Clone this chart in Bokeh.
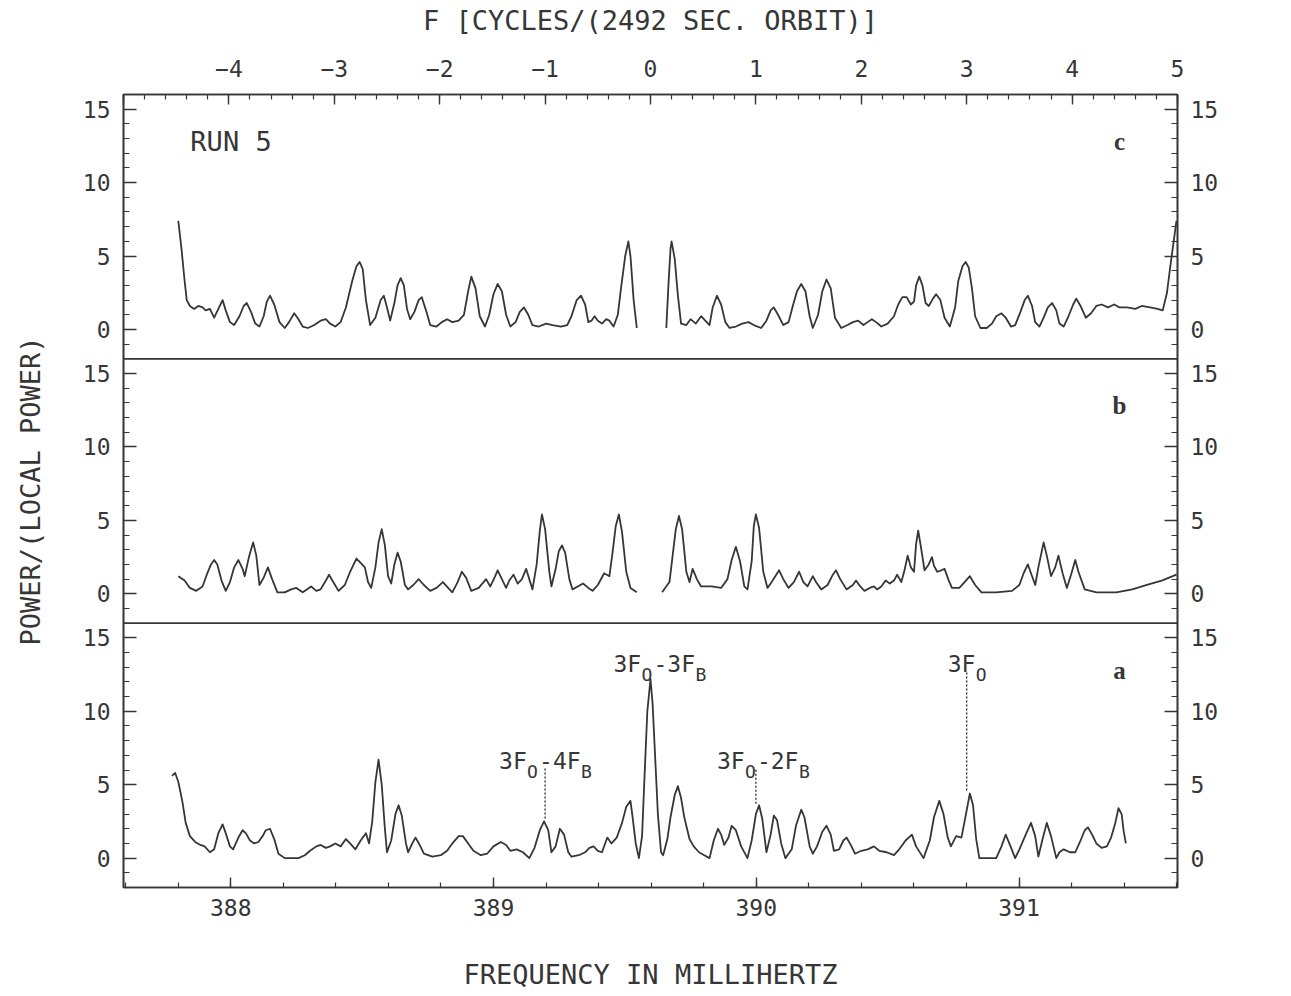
from bokeh.plotting import figure
from bokeh.models import (Range1d, LinearAxis, FixedTicker, SingleIntervalTicker,
                          Span, Label, ColumnDataSource)
from bokeh.transform import dodge
from bokeh.embed import file_html
from bokeh.resources import INLINE

nan = float("nan")

# ---------- data: x in cycles per 2492 s orbit (relative to 3F0-3FB), y in power/local power ----------
amp_f = [-4.48, -4.45, -4.42, -4.40, -4.37, -4.33, -4.29, -4.25, -4.22, -4.18, -4.14, -4.10,
         -4.06, -4.03, -3.99, -3.95, -3.90, -3.86, -3.83, -3.79, -3.75, -3.71, -3.67, -3.64,
         -3.61, -3.57, -3.52, -3.47, -3.43, -3.38, -3.34, -3.30, -3.25, -3.19, -3.13, -3.08,
         -3.04, -2.99, -2.94, -2.89, -2.83, -2.79, -2.76, -2.73, -2.70, -2.66, -2.61, -2.56,
         -2.53, -2.50, -2.47, -2.43, -2.40, -2.37, -2.34, -2.31, -2.28, -2.24, -2.20, -2.17,
         -2.13, -2.09, -2.03, -1.98, -1.93, -1.88, -1.82, -1.77, -1.73, -1.70, -1.66, -1.62,
         -1.57, -1.53, -1.49, -1.45, -1.41, -1.37, -1.33, -1.28, -1.24, -1.20, -1.16, -1.12,
         -1.06, -0.99, -0.93, -0.85, -0.79, -0.75, -0.70, -0.66, -0.62, -0.59, -0.56, -0.53,
         -0.50, -0.46, -0.42, -0.39, -0.35, -0.31, -0.28, -0.24, -0.21, -0.19, -0.16, -0.13,
         nan,
         0.15, 0.17, 0.19, 0.20, 0.23, 0.26, 0.29, 0.34, 0.38, 0.43, 0.48, 0.52,
         0.56, 0.59, 0.63, 0.67, 0.71, 0.75, 0.81, 0.87, 0.93, 0.98, 1.05, 1.10,
         1.14, 1.17, 1.21, 1.26, 1.31, 1.35, 1.39, 1.43, 1.47, 1.51, 1.54, 1.59,
         1.63, 1.67, 1.71, 1.75, 1.81, 1.87, 1.92, 1.97, 2.02, 2.06, 2.10, 2.14,
         2.19, 2.25, 2.31, 2.35, 2.39, 2.43, 2.47, 2.50, 2.52, 2.55, 2.58, 2.61,
         2.64, 2.68, 2.71, 2.75, 2.79, 2.84, 2.89, 2.92, 2.96, 2.99, 3.02, 3.05,
         3.08, 3.13, 3.19, 3.24, 3.28, 3.33, 3.37, 3.42, 3.46, 3.51, 3.55, 3.58,
         3.62, 3.65, 3.69, 3.73, 3.77, 3.81, 3.85, 3.88, 3.92, 3.96, 4.01, 4.04,
         4.08, 4.13, 4.18, 4.23, 4.28, 4.34, 4.40, 4.45, 4.52, 4.60, 4.66, 4.74,
         4.81, 4.86, 4.90, 4.93, 4.96, 4.99]
amp_v = [7.4, 5.5, 3.3, 2.0, 1.6, 1.4, 1.6, 1.5, 1.3, 1.4, 0.8, 1.4,
         2.0, 1.3, 0.5, 0.3, 0.9, 1.6, 1.8, 1.2, 0.4, 0.2, 0.9, 1.9,
         2.3, 1.7, 0.5, 0.1, 0.5, 1.1, 0.7, 0.2, 0.1, 0.3, 0.6, 0.7,
         0.4, 0.2, 0.5, 1.5, 3.3, 4.3, 4.6, 4.1, 2.0, 0.3, 0.8, 2.0,
         2.3, 1.5, 0.6, 1.8, 3.0, 3.5, 3.0, 1.4, 0.7, 1.2, 2.0, 2.2,
         1.3, 0.3, 0.2, 0.5, 0.7, 0.5, 0.6, 1.0, 2.6, 3.6, 2.8, 0.9,
         0.2, 1.0, 2.4, 3.1, 2.6, 1.0, 0.2, 0.5, 1.2, 1.5, 1.0, 0.3,
         0.2, 0.4, 0.3, 0.2, 0.3, 0.9, 2.0, 2.3, 1.7, 0.5, 0.6, 0.9,
         0.6, 0.4, 0.7, 0.6, 0.2, 1.0, 2.8, 5.0, 6.0, 5.0, 2.0, 0.1,
         nan,
         0.1, 3.0, 5.5, 6.0, 4.8, 2.3, 0.4, 0.3, 0.7, 0.4, 0.9, 0.6,
         0.3, 1.5, 2.3, 1.7, 0.5, 0.1, 0.2, 0.4, 0.5, 0.3, 0.1, 0.6,
         1.3, 1.5, 1.0, 0.3, 0.5, 1.6, 2.6, 3.1, 2.6, 0.9, 0.1, 1.0,
         2.6, 3.4, 2.8, 0.8, 0.1, 0.3, 0.5, 0.6, 0.3, 0.5, 0.7, 0.5,
         0.2, 0.4, 0.9, 1.7, 2.2, 2.2, 1.7, 1.9, 3.0, 3.6, 3.0, 1.8,
         1.6, 2.1, 2.4, 2.0, 0.8, 0.2, 1.5, 3.3, 4.3, 4.6, 4.2, 2.8,
         0.9, 0.1, 0.1, 0.4, 0.9, 1.1, 0.8, 0.2, 0.3, 1.2, 2.0, 2.3,
         1.6, 0.5, 0.2, 0.8, 1.5, 1.8, 1.3, 0.4, 0.2, 0.8, 1.7, 2.1,
         1.6, 0.8, 1.1, 1.6, 1.7, 1.5, 1.7, 1.5, 1.5, 1.4, 1.6, 1.5,
         1.4, 1.3, 2.5, 4.2, 5.8, 7.4]

phase_f = [-4.48, -4.42, -4.37, -4.31, -4.25, -4.21, -4.17, -4.14, -4.11, -4.07, -4.03, -3.99,
           -3.95, -3.91, -3.87, -3.85, -3.81, -3.77, -3.74, -3.71, -3.67, -3.63, -3.59, -3.54,
           -3.47, -3.41, -3.36, -3.30, -3.26, -3.22, -3.17, -3.13, -3.08, -3.05, -3.01, -2.96,
           -2.90, -2.85, -2.79, -2.75, -2.71, -2.68, -2.65, -2.61, -2.58, -2.55, -2.52, -2.49,
           -2.46, -2.43, -2.40, -2.37, -2.33, -2.30, -2.25, -2.20, -2.15, -2.09, -2.03, -1.97,
           -1.92, -1.88, -1.83, -1.79, -1.75, -1.70, -1.63, -1.56, -1.52, -1.48, -1.45, -1.41,
           -1.37, -1.34, -1.30, -1.26, -1.22, -1.18, -1.15, -1.12, -1.08, -1.05, -1.03, -1.00,
           -0.96, -0.94, -0.90, -0.87, -0.84, -0.81, -0.77, -0.74, -0.69, -0.64, -0.59, -0.55,
           -0.50, -0.44, -0.39, -0.36, -0.33, -0.30, -0.27, -0.23, -0.19, -0.13,
           nan,
           0.11, 0.18, 0.21, 0.24, 0.27, 0.30, 0.34, 0.37, 0.40, 0.44, 0.48, 0.58,
           0.67, 0.73, 0.77, 0.81, 0.85, 0.89, 0.92, 0.96, 0.98, 1.00, 1.03, 1.07,
           1.11, 1.15, 1.22, 1.26, 1.31, 1.36, 1.41, 1.45, 1.49, 1.54, 1.57, 1.62,
           1.68, 1.73, 1.76, 1.80, 1.86, 1.92, 1.95, 1.99, 2.03, 2.08, 2.12, 2.15,
           2.19, 2.23, 2.27, 2.31, 2.34, 2.38, 2.41, 2.44, 2.47, 2.50, 2.52, 2.54,
           2.57, 2.60, 2.64, 2.67, 2.69, 2.72, 2.76, 2.79, 2.83, 2.86, 2.93, 2.98,
           3.03, 3.08, 3.14, 3.28, 3.43, 3.50, 3.54, 3.58, 3.61, 3.65, 3.68, 3.73,
           3.76, 3.80, 3.84, 3.87, 3.91, 3.95, 3.99, 4.03, 4.06, 4.12, 4.23, 4.42,
           4.57, 4.71, 4.85, 4.99]
phase_v = [1.2, 0.9, 0.4, 0.2, 0.5, 1.3, 2.0, 2.3, 2.0, 0.9, 0.2, 0.8,
           1.8, 2.3, 1.7, 1.2, 2.5, 3.5, 2.6, 0.6, 1.1, 1.8, 1.0, 0.1,
           0.1, 0.3, 0.4, 0.1, 0.3, 0.5, 0.2, 0.3, 0.9, 1.3, 0.8, 0.2,
           0.6, 1.5, 2.4, 2.1, 1.8, 0.8, 0.4, 1.8, 3.5, 4.4, 3.3, 1.2,
           0.7, 2.0, 2.8, 2.2, 0.6, 0.3, 0.6, 1.0, 0.6, 0.2, 0.4, 0.8,
           0.4, 0.1, 0.8, 1.5, 1.1, 0.2, 0.4, 1.0, 0.5, 1.1, 1.6, 1.0,
           0.4, 0.9, 1.3, 0.7, 1.0, 1.7, 1.0, 0.3, 2.0, 4.3, 5.4, 4.4,
           1.5, 0.5, 1.7, 2.9, 3.3, 2.8, 1.0, 0.3, 0.5, 0.7, 0.4, 0.2,
           0.6, 1.4, 1.2, 2.8, 4.6, 5.4, 4.2, 1.5, 0.4, 0.1,
           nan,
           0.1, 0.8, 2.6, 4.4, 5.3, 4.4, 1.5, 0.8, 1.7, 1.0, 0.5, 0.5,
           0.4, 1.0, 2.3, 3.2, 2.2, 0.5, 0.3, 2.2, 4.6, 5.4, 4.5, 1.5,
           0.4, 0.8, 1.6, 1.0, 0.4, 0.8, 1.5, 0.8, 0.5, 1.2, 0.8, 0.3,
           0.6, 1.3, 1.6, 1.0, 0.3, 0.6, 0.9, 0.5, 0.2, 0.4, 0.5, 0.3,
           0.5, 0.9, 0.7, 0.9, 1.3, 0.8, 1.6, 2.6, 1.8, 1.5, 3.4, 4.3,
           3.0, 1.6, 2.0, 2.5, 1.9, 1.5, 1.6, 1.7, 0.9, 0.4, 0.4, 0.8,
           1.2, 0.6, 0.1, 0.1, 0.2, 0.6, 1.4, 2.0, 1.4, 0.6, 1.8, 3.5,
           2.6, 1.2, 1.8, 2.6, 1.4, 0.4, 1.3, 2.3, 1.5, 0.3, 0.1, 0.1,
           0.3, 0.6, 0.9, 1.3]

spec_f = [-4.54, -4.51, -4.48, -4.44, -4.41, -4.37, -4.32, -4.27, -4.23, -4.18, -4.14, -4.10,
          -4.06, -4.03, -3.99, -3.96, -3.91, -3.87, -3.84, -3.80, -3.76, -3.72, -3.68, -3.65,
          -3.61, -3.57, -3.53, -3.47, -3.34, -3.28, -3.23, -3.17, -3.13, -3.08, -3.04, -2.99,
          -2.94, -2.89, -2.85, -2.80, -2.75, -2.70, -2.67, -2.64, -2.61, -2.58, -2.55, -2.52,
          -2.50, -2.46, -2.42, -2.39, -2.36, -2.32, -2.30, -2.26, -2.23, -2.19, -2.15, -2.07,
          -1.99, -1.93, -1.88, -1.82, -1.78, -1.73, -1.68, -1.61, -1.55, -1.49, -1.42, -1.37,
          -1.33, -1.27, -1.21, -1.15, -1.10, -1.05, -1.01, -0.97, -0.94, -0.90, -0.86, -0.82,
          -0.78, -0.75, -0.68, -0.62, -0.58, -0.54, -0.50, -0.46, -0.41, -0.37, -0.32, -0.27,
          -0.23, -0.19, -0.17, -0.14, -0.11, -0.08, -0.06, -0.03, 0.00, 0.02, 0.04, 0.07,
          0.10, 0.12, 0.16, 0.19, 0.23, 0.26, 0.29, 0.32, 0.37, 0.41, 0.46, 0.51,
          0.56, 0.60, 0.64, 0.67, 0.70, 0.74, 0.77, 0.81, 0.86, 0.92, 0.96, 1.00,
          1.03, 1.06, 1.10, 1.14, 1.17, 1.20, 1.24, 1.28, 1.34, 1.38, 1.43, 1.46,
          1.51, 1.54, 1.58, 1.63, 1.67, 1.71, 1.74, 1.79, 1.83, 1.86, 1.90, 1.94,
          2.00, 2.06, 2.12, 2.17, 2.24, 2.31, 2.36, 2.42, 2.48, 2.52, 2.59, 2.65,
          2.69, 2.74, 2.78, 2.82, 2.85, 2.90, 2.95, 2.98, 3.03, 3.06, 3.09, 3.12,
          3.28, 3.33, 3.37, 3.41, 3.46, 3.50, 3.56, 3.61, 3.65, 3.68, 3.72, 3.76,
          3.80, 3.85, 3.88, 3.92, 3.98, 4.03, 4.08, 4.12, 4.15, 4.19, 4.23, 4.28,
          4.33, 4.37, 4.41, 4.44, 4.47, 4.49, 4.51]
spec_v = [5.6, 5.8, 5.2, 3.8, 2.4, 1.5, 1.1, 0.9, 0.8, 0.4, 0.6, 1.7,
          2.3, 1.7, 0.8, 0.6, 1.4, 1.9, 1.7, 1.2, 1.0, 1.1, 1.5, 1.9,
          2.0, 1.3, 0.3, 0.0, 0.0, 0.2, 0.5, 0.8, 0.9, 0.7, 0.8, 1.0,
          0.8, 1.3, 1.0, 0.6, 1.2, 1.7, 1.0, 2.5, 5.2, 6.7, 5.0, 2.0,
          0.4, 1.2, 3.0, 3.6, 2.9, 1.0, 0.4, 1.0, 1.4, 0.9, 0.3, 0.1,
          0.2, 0.5, 1.0, 1.5, 1.5, 1.0, 0.5, 0.2, 0.3, 0.8, 1.1, 0.9,
          0.5, 0.6, 0.4, 0.0, 0.7, 1.9, 2.5, 1.9, 0.4, 0.8, 2.0, 1.6,
          0.4, 0.1, 0.2, 0.4, 0.7, 0.8, 0.5, 0.4, 1.4, 1.0, 1.4, 2.4,
          3.5, 3.9, 2.8, 1.0, 0.0, 1.5, 5.0, 10.0, 12.2, 10.5, 7.5, 3.0,
          0.4, 0.2, 1.3, 2.8, 4.3, 4.9, 4.1, 2.8, 1.3, 0.8, 0.4, 0.2,
          0.0, 1.2, 2.0, 1.6, 0.9, 1.4, 2.2, 1.9, 0.8, 0.0, 1.2, 3.0,
          3.6, 2.7, 0.4, 1.6, 2.9, 2.6, 1.0, 0.0, 0.6, 2.2, 3.3, 2.8,
          0.8, 0.3, 0.8, 1.8, 2.2, 1.6, 0.5, 0.6, 1.2, 1.4, 0.9, 0.3,
          0.5, 0.6, 0.8, 0.5, 0.4, 0.2, 0.6, 1.2, 1.6, 0.8, 0.0, 1.2,
          2.8, 3.9, 3.0, 1.4, 0.8, 1.5, 1.4, 2.5, 4.4, 3.6, 1.3, 0.0,
          0.0, 0.8, 1.6, 0.9, 0.0, 0.6, 1.6, 2.4, 1.5, 0.1, 1.3, 2.4,
          1.5, 0.0, 0.4, 0.6, 0.4, 0.4, 1.2, 1.9, 2.1, 1.6, 1.0, 0.7,
          0.8, 1.4, 2.4, 3.4, 3.0, 1.8, 1.0]

# identified lines in the spectrum (cycles/orbit): peak height and label base height
ann_f = [-1.0, 0.0, 1.0, 3.0]
ann_peak = [2.7, 12.2, 3.7, 4.6]
ann_base = [6.6, 13.2, 6.6, 13.2]
ann_text = [("3F", "O", "-4F", "B"), ("3F", "O", "-3F", "B"),
            ("3F", "O", "-2F", "B"), ("3F", "O", "", "")]

panels = ["SPECTRUM", "PHASE", "AMPLITUDE"]
panel_letters = ["a", "b", "c"]
panel_offset = [0, 18, 36]          # vertical stacking of the three panels
y_major = [0, 5, 10, 15]
MHZ_RANGE = (387.592, 391.603)

INK = "#363636"
FONT = "DejaVu Sans Mono"

# ---------- figure ----------
W, H = 1285, 992
p = figure(width=W, height=H, output_backend="svg", toolbar_location=None,
           x_range=Range1d(-5, 5), y_range=Range1d(-2, 52),
           x_axis_location="above", min_border_left=123, min_border_right=108,
           min_border_top=94, min_border_bottom=105,
           background_fill_color="white", border_fill_color="white")
p.grid.visible = False
p.outline_line_color = INK
p.outline_line_width = 1.6
p.extra_x_ranges = {"mhz": Range1d(*MHZ_RANGE)}


def style_axis(ax):
    ax.axis_line_color = INK
    ax.axis_line_width = 1.6
    ax.major_tick_line_color = INK
    ax.minor_tick_line_color = INK
    ax.major_tick_line_width = 1.4
    ax.minor_tick_line_width = 1.2
    ax.major_label_text_font = FONT
    ax.major_label_text_font_size = "23px"
    ax.major_label_text_color = INK
    ax.axis_label_text_font = FONT
    ax.axis_label_text_font_style = "normal"
    ax.axis_label_text_color = INK
    ax.axis_label_text_font_size = "27px"
    ax.major_tick_out = 0
    ax.minor_tick_out = 0


top = p.xaxis[0]
top.ticker = SingleIntervalTicker(interval=1, num_minor_ticks=5)
top.major_label_overrides = {-5: ""}
top.axis_label = "F [CYCLES/(2492 SEC. ORBIT)]"
style_axis(top)
top.major_tick_in = 10
top.minor_tick_in = 5
top.major_label_standoff = 18
top.axis_label_standoff = 21

bottom = LinearAxis(x_range_name="mhz", axis_label="FREQUENCY IN MILLIHERTZ",
                    ticker=SingleIntervalTicker(interval=1, num_minor_ticks=5))
style_axis(bottom)
bottom.major_tick_in = 10
bottom.minor_tick_in = 5
bottom.major_label_standoff = 11
bottom.axis_label_standoff = 40
p.add_layout(bottom, "below")

ticks = [v + o for o in panel_offset for v in y_major]
minor = [v + o for o in panel_offset for v in range(-2, 16)]
overrides = {v + o: str(v) for o in panel_offset for v in y_major}

left = p.yaxis[0]
left.ticker = FixedTicker(ticks=ticks, minor_ticks=minor)
left.major_label_overrides = overrides
left.axis_label = "POWER/(LOCAL POWER)"
style_axis(left)
left.major_tick_in = 13
left.minor_tick_in = 6
left.major_label_standoff = 13
left.axis_label_standoff = 34

right = LinearAxis(ticker=FixedTicker(ticks=ticks, minor_ticks=minor),
                   major_label_overrides=overrides)
style_axis(right)
right.major_tick_in = 13
right.minor_tick_in = 6
right.major_label_standoff = 13
p.add_layout(right, "right")

# panel separators
for o in panel_offset[1:]:
    p.add_layout(Span(location=o - 2, dimension="width", line_color=INK, line_width=1.6))

# curves
for xs, ys, off in [(spec_f, spec_v, panel_offset[0]), (phase_f, phase_v, panel_offset[1]),
                    (amp_f, amp_v, panel_offset[2])]:
    src = ColumnDataSource(dict(f=xs, v=ys))
    p.line(x="f", y=dodge("v", off), source=src, line_color=INK, line_width=1.8,
           line_join="round")

# right-hand panel names and panel letters
for name, letter, off in zip(panels, panel_letters, panel_offset):
    p.add_layout(Label(x=5.86, y=off + 7, text=name, angle=90, angle_units="deg",
                       text_align="center", text_baseline="middle", text_font=FONT,
                       text_font_size="24px", text_color=INK))
    p.add_layout(Label(x=4.45, y=off + 12.8, text=letter, text_align="center",
                       text_baseline="middle", text_font="Liberation Serif",
                       text_font_style="bold", text_font_size="25px", text_color=INK))

p.add_layout(Label(x=-3.98, y=panel_offset[2] + 12.8, text="RUN 5", text_align="center",
                   text_baseline="middle", text_font=FONT, text_font_size="27px",
                   text_color=INK))

# identified lines in the spectrum panel
sel = [i for i, f in enumerate(ann_f) if f != 0.0]
ann_src = ColumnDataSource(dict(x=[ann_f[i] for i in sel], y0=[ann_peak[i] for i in sel],
                                y1=[ann_base[i] - 0.5 for i in sel]))
p.segment(x0="x", y0="y0", x1="x", y1="y1", source=ann_src, line_color=INK,
          line_width=1.4, line_dash="2 2")

lead = {-1.0: -46, 0.0: -37, 1.0: -39, 3.0: -19}
for f, base, parts in zip(ann_f, ann_base, ann_text):
    x0 = lead[f]
    pieces = [(parts[0], 0, 0, "23px"), (parts[1], 28, -10, "18px"),
              (parts[2], 40, 0, "23px"), (parts[3], 82, -10, "18px")]
    for txt, dx, dy, sz in pieces:
        if not txt:
            continue
        p.add_layout(Label(x=f, y=base, x_offset=x0 + dx, y_offset=dy, text=txt,
                           text_align="left", text_baseline="alphabetic",
                           text_font=FONT, text_font_size=sz, text_color=INK))

open("out.html", "w").write(file_html(p, INLINE))
